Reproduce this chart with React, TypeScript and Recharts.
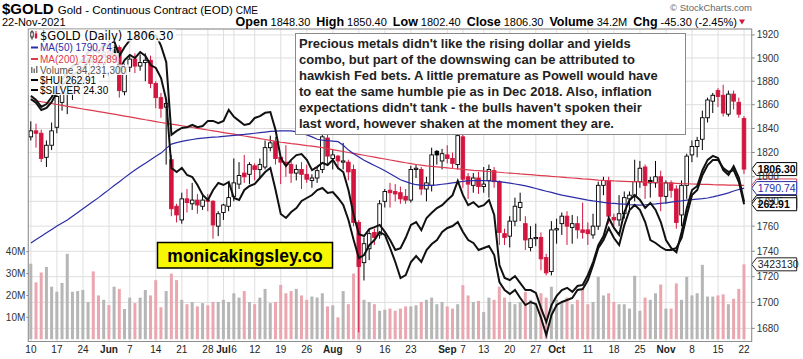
import { ComposedChart, Bar, Line, XAxis, YAxis, CartesianGrid, ReferenceLine } from 'recharts';

// trading days, 10 May – 22 Nov 2021
const dates = [
  '05-10', '05-11', '05-12', '05-13', '05-14', '05-17', '05-18', '05-19', '05-20', '05-21', '05-24', '05-25', '05-26', '05-27', '05-28',
  '06-01', '06-02', '06-03', '06-04', '06-07', '06-08', '06-09', '06-10', '06-11', '06-14', '06-15', '06-16', '06-17', '06-18', '06-21', '06-22', '06-23', '06-24', '06-25', '06-28', '06-29', '06-30',
  '07-01', '07-02', '07-06', '07-07', '07-08', '07-09', '07-12', '07-13', '07-14', '07-15', '07-16', '07-19', '07-20', '07-21', '07-22', '07-23', '07-26', '07-27', '07-28', '07-29', '07-30',
  '08-02', '08-03', '08-04', '08-05', '08-06', '08-09', '08-10', '08-11', '08-12', '08-13', '08-16', '08-17', '08-18', '08-19', '08-20', '08-23', '08-24', '08-25', '08-26', '08-27', '08-30', '08-31',
  '09-01', '09-02', '09-03', '09-07', '09-08', '09-09', '09-10', '09-13', '09-14', '09-15', '09-16', '09-17', '09-20', '09-21', '09-22', '09-23', '09-24', '09-27', '09-28', '09-29', '09-30',
  '10-01', '10-04', '10-05', '10-06', '10-07', '10-08', '10-11', '10-12', '10-13', '10-14', '10-15', '10-18', '10-19', '10-20', '10-21', '10-22', '10-25', '10-26', '10-27', '10-28', '10-29',
  '11-01', '11-02', '11-03', '11-04', '11-05', '11-08', '11-09', '11-10', '11-11', '11-12', '11-15', '11-16', '11-17', '11-18', '11-19', '11-22',
];

const opens = [
  1833, 1838, 1836, 1816, 1826, 1841, 1862, 1869, 1870, 1877,
  1880, 1882, 1898, 1896, 1895, 1906, 1903, 1909, 1871, 1892,
  1899, 1893, 1896, 1898, 1878, 1866, 1858, 1814, 1776, 1765,
  1782, 1778, 1781, 1776, 1781, 1780, 1760, 1771, 1776, 1784,
  1794, 1803, 1802, 1809, 1806, 1808, 1824, 1829, 1816, 1812,
  1810, 1803, 1806, 1802, 1797, 1799, 1806, 1832, 1815, 1817,
  1812, 1812, 1806, 1763, 1731, 1742, 1755, 1753, 1780, 1789,
  1788, 1787, 1784, 1781, 1806, 1806, 1790, 1793, 1821, 1813,
  1818, 1815, 1810, 1833, 1800, 1793, 1799, 1792, 1797, 1805,
  1796, 1754, 1752, 1764, 1775, 1762, 1743, 1750, 1751, 1735,
  1724, 1757, 1762, 1768, 1759, 1762, 1757, 1757, 1753, 1760,
  1793, 1797, 1767, 1765, 1770, 1782, 1785, 1796, 1808, 1797,
  1795, 1800, 1784, 1795, 1790, 1769, 1793, 1818, 1825, 1831,
  1849, 1863, 1872, 1868, 1852, 1869, 1862, 1848.3,
];
const highs = [
  1846, 1844, 1839, 1830, 1845, 1870, 1880, 1890, 1884, 1890,
  1887, 1900, 1913, 1902, 1912, 1916, 1911, 1911, 1895, 1903,
  1904, 1903, 1904, 1902, 1880, 1870, 1865, 1818, 1778, 1787,
  1790, 1795, 1786, 1786, 1786, 1781, 1772, 1778, 1795, 1815,
  1812, 1818, 1812, 1811, 1815, 1830, 1834, 1833, 1817, 1826,
  1813, 1810, 1812, 1810, 1802, 1808, 1837, 1835, 1822, 1818,
  1828, 1814, 1810, 1765, 1751, 1757, 1758, 1781, 1790, 1795,
  1794, 1792, 1790, 1809, 1810, 1808, 1800, 1824, 1822, 1823,
  1826, 1820, 1836, 1835, 1803, 1803, 1804, 1808, 1810, 1808,
  1797, 1758, 1768, 1783, 1787, 1768, 1760, 1762, 1755, 1738,
  1764, 1766, 1771, 1772, 1769, 1768, 1779, 1763, 1770, 1796,
  1800, 1800, 1770, 1785, 1788, 1788, 1814, 1813, 1810, 1800,
  1813, 1805, 1797, 1797, 1793, 1797, 1819, 1830, 1833, 1855,
  1866, 1870, 1874, 1877, 1872, 1872, 1866, 1850.4,
];
const lows = [
  1830, 1824, 1812, 1808, 1822, 1836, 1855, 1852, 1864, 1871,
  1873, 1879, 1891, 1888, 1883, 1896, 1895, 1866, 1868, 1888,
  1887, 1889, 1880, 1874, 1857, 1849, 1810, 1768, 1763, 1762,
  1771, 1773, 1770, 1773, 1772, 1750, 1752, 1765, 1772, 1780,
  1790, 1795, 1794, 1797, 1799, 1806, 1821, 1810, 1794, 1800,
  1795, 1797, 1790, 1795, 1791, 1795, 1803, 1810, 1806, 1806,
  1806, 1797, 1760, 1677, 1717, 1733, 1745, 1750, 1775, 1775,
  1780, 1778, 1778, 1779, 1799, 1785, 1780, 1788, 1810, 1806,
  1811, 1807, 1806, 1791, 1782, 1787, 1786, 1787, 1783, 1791,
  1745, 1745, 1743, 1760, 1764, 1741, 1740, 1744, 1725, 1721,
  1721, 1746, 1753, 1745, 1746, 1750, 1750, 1745, 1750, 1757,
  1785, 1762, 1760, 1760, 1766, 1773, 1780, 1791, 1782, 1783,
  1791, 1772, 1778, 1783, 1758, 1760, 1782, 1812, 1816, 1822,
  1845, 1853, 1858, 1850, 1850, 1856, 1849, 1802.4,
];
const closes = [
  1838, 1836, 1815, 1826, 1838, 1867, 1869, 1870, 1877, 1878,
  1881, 1898, 1896, 1895, 1905, 1904, 1909, 1872, 1892, 1899,
  1893, 1896, 1898, 1878, 1866, 1857, 1861, 1774, 1769, 1782,
  1779, 1781, 1777, 1781, 1780, 1761, 1770, 1777, 1783, 1795,
  1801, 1800, 1810, 1806, 1810, 1824, 1828, 1815, 1812, 1810,
  1803, 1806, 1802, 1798, 1799, 1805, 1833, 1817, 1818, 1813,
  1813, 1804, 1763, 1728, 1746, 1754, 1751, 1778, 1788, 1787,
  1786, 1782, 1781, 1806, 1807, 1790, 1795, 1818, 1818, 1819,
  1815, 1811, 1834, 1798, 1794, 1799, 1792, 1794, 1806, 1796,
  1755, 1751, 1764, 1776, 1779, 1749, 1750, 1751, 1734, 1723,
  1757, 1758, 1768, 1760, 1762, 1757, 1755, 1754, 1760, 1793,
  1797, 1768, 1765, 1770, 1783, 1785, 1796, 1807, 1793, 1795,
  1800, 1784, 1795, 1789, 1763, 1793, 1817, 1825, 1830, 1849,
  1864, 1868, 1867, 1853, 1869, 1863, 1852, 1806.3,
];
// millions of contracts
const volumes = [
  34.5, 26, 30.5, 33, 24, 21.7, 25.7, 39, 21.7, 22,
  22.5, 17, 31, 20, 18, 15.6, 24, 23, 13.8, 19,
  16.5, 19, 22.5, 20, 27, 14.6, 22, 30, 27, 18,
  16, 17, 15, 16.5, 15.5, 17, 17, 18, 17, 21,
  19, 22, 17, 16, 19, 23, 16.5, 17, 24.8, 21,
  22, 23, 20, 18, 19.5, 19, 21, 15, 15.5, 10,
  22, 16, 30, 33, 18, 17, 16, 13, 13.5, 14,
  13, 14, 15, 15, 15.5, 17, 18, 19, 16, 17,
  15, 14, 16, 24.7, 20, 17, 17.5, 12.4, 19, 18,
  24, 19, 17, 16, 17, 21.6, 18, 16, 21, 19,
  24, 18, 17, 19, 16, 18, 23, 16, 17, 28.5,
  20, 21, 17, 16, 16, 14, 29, 13, 19, 18,
  21, 25, 14, 14, 25.5, 18, 28.5, 20, 21, 34,
  19.5, 19.5, 20, 20.5, 16, 18.5, 23, 34.2313,
];
const ma50 = [
  1746.6, 1749.3, 1752.0, 1754.7, 1757.4, 1760.1, 1762.6, 1765.0, 1768.0, 1771.0,
  1774.0, 1777.0, 1780.0, 1783.0, 1786.3, 1789.5, 1792.8, 1796.0, 1799.3, 1802.5,
  1805.5, 1808.4, 1811.2, 1814.0, 1816.8, 1819.5, 1823.4, 1827.0, 1828.2, 1829.2,
  1830.0, 1830.8, 1831.5, 1832.0, 1832.4, 1832.7, 1833.0, 1833.4, 1833.8, 1834.2,
  1834.6, 1835.0, 1835.5, 1836.0, 1836.5, 1837.0, 1837.5, 1837.8, 1838.0, 1838.1,
  1838.0, 1837.2, 1836.0, 1834.6, 1833.0, 1831.0, 1830.2, 1829.8, 1829.5, 1829.0,
  1826.0, 1822.0, 1819.0, 1816.2, 1813.5, 1811.4, 1809.3, 1807.2, 1805.0, 1802.5,
  1800.0, 1797.5, 1796.0, 1794.6, 1793.5, 1793.2, 1793.0, 1793.0, 1793.4, 1793.9,
  1794.4, 1795.0, 1795.6, 1796.3, 1796.6, 1796.8, 1796.9, 1796.8, 1796.7, 1796.5,
  1796.0, 1795.4, 1794.8, 1794.1, 1793.3, 1792.5, 1791.5, 1790.4, 1789.3, 1788.2,
  1787.2, 1786.1, 1785.0, 1784.2, 1783.4, 1782.6, 1781.8, 1781.0, 1780.3, 1779.7,
  1779.1, 1778.6, 1778.3, 1778.0, 1777.7, 1777.4, 1777.2, 1777.0, 1777.2, 1777.5,
  1777.9, 1778.4, 1778.8, 1779.4, 1780.0, 1780.4, 1780.9, 1781.3, 1781.8, 1782.2,
  1782.7, 1783.6, 1784.6, 1785.7, 1786.9, 1788.4, 1789.6, 1790.74,
];
const ma200 = [
  1864.0, 1863.3, 1862.5, 1861.8, 1861.0, 1860.2, 1859.4, 1858.6, 1857.9, 1857.1,
  1856.4, 1855.7, 1855.0, 1854.2, 1853.5, 1852.7, 1852.0, 1851.2, 1850.4, 1849.7,
  1848.9, 1848.1, 1847.3, 1846.6, 1845.8, 1845.0, 1844.3, 1843.6, 1843.0, 1842.3,
  1841.6, 1840.8, 1840.1, 1839.4, 1838.7, 1838.0, 1837.3, 1836.6, 1835.9, 1835.2,
  1834.5, 1833.7, 1833.0, 1832.3, 1831.5, 1830.8, 1830.1, 1829.3, 1828.5, 1828.0,
  1827.4, 1826.9, 1826.3, 1825.7, 1825.2, 1824.6, 1824.0, 1823.2, 1822.4, 1821.6,
  1820.8, 1820.0, 1819.3, 1818.5, 1817.7, 1816.9, 1816.1, 1815.3, 1814.6, 1813.8,
  1813.0, 1812.3, 1811.5, 1810.8, 1810.1, 1809.5, 1809.0, 1808.6, 1808.2, 1807.7,
  1807.3, 1806.8, 1806.4, 1806.0, 1805.7, 1805.3, 1805.0, 1804.7, 1804.3, 1804.0,
  1803.7, 1803.3, 1803.0, 1802.7, 1802.3, 1802.0, 1801.7, 1801.3, 1801.0, 1800.7,
  1800.3, 1800.0, 1799.7, 1799.3, 1799.0, 1798.7, 1798.3, 1798.0, 1797.7, 1797.3,
  1797.0, 1796.8, 1796.6, 1796.5, 1796.3, 1796.1, 1796.0, 1795.8, 1795.6, 1795.4,
  1795.3, 1795.1, 1794.9, 1794.8, 1794.6, 1794.4, 1794.3, 1794.1, 1794.0, 1793.8,
  1793.7, 1793.5, 1793.4, 1793.3, 1793.2, 1793.1, 1793.0, 1792.89,
];
const hui = [
  305.0, 303.4, 300.6, 301.4, 303.8, 307.8, 310.6, 312.6, 314.6, 315.8,
  317.4, 319.8, 320.6, 319.4, 322.6, 321.4, 324.6, 316.6, 320.6, 322.6,
  321.4, 323.8, 322.2, 318.6, 317.4, 313.4, 304.6, 277.4, 275.8, 277.4,
  274.6, 273.8, 270.6, 266.6, 264.6, 268.6, 271.4, 270.6, 271.8, 265.4,
  264.6, 268.6, 270.2, 271.0, 273.4, 275.8, 277.4, 268.6, 259.0, 257.4,
  259.8, 261.4, 264.2, 265.4, 266.6, 268.6, 269.4, 267.4, 267.8, 265.4,
  262.6, 256.6, 248.6, 241.4, 242.6, 246.6, 248.6, 251.8, 250.6, 245.4,
  239.8, 233.4, 234.6, 239.8, 242.2, 239.8, 244.6, 247.0, 248.6, 251.8,
  253.4, 254.2, 255.8, 251.8, 248.6, 247.4, 244.6, 245.4, 246.2, 242.6,
  231.8, 228.6, 227.0, 228.6, 225.4, 222.6, 223.8, 223.0, 217.4, 210.6,
  218.6, 222.6, 223.8, 224.6, 225.4, 228.6, 229.0, 232.6, 238.6, 245.4,
  248.6, 253.4, 249.4, 246.6, 254.6, 260.6, 262.6, 260.6, 255.8, 248.6,
  247.4, 245.8, 244.6, 244.6, 245.4, 249.4, 258.6, 266.6, 268.6, 274.6,
  278.6, 280.6, 280.6, 277.4, 275.8, 276.6, 271.8, 262.91,
];
const silver = [
  27.18, 27.07, 26.88, 26.96, 27.15, 27.40, 27.61, 27.83, 27.99, 28.05,
  28.16, 28.37, 28.43, 28.37, 28.59, 28.54, 28.67, 28.27, 28.51, 28.70,
  28.76, 28.81, 28.89, 28.78, 28.84, 28.54, 28.10, 26.12, 26.23, 26.31,
  26.33, 26.39, 26.33, 26.36, 26.50, 26.50, 26.44, 26.50, 26.80, 26.61,
  26.50, 26.39, 26.42, 26.58, 26.63, 26.72, 26.74, 26.25, 25.49, 25.27,
  25.44, 25.57, 25.60, 25.44, 25.16, 25.25, 25.36, 25.30, 25.44, 25.22,
  25.11, 24.62, 23.94, 23.42, 23.37, 23.56, 23.61, 23.67, 23.48, 23.26,
  22.99, 23.04, 23.32, 23.67, 23.75, 23.53, 23.86, 24.00, 24.13, 24.21,
  24.35, 24.48, 24.87, 24.48, 24.21, 24.29, 24.16, 24.21, 24.35, 23.94,
  22.58, 22.23, 22.17, 22.28, 22.09, 21.90, 21.90, 21.82, 21.41, 21.03,
  21.49, 21.74, 21.90, 21.96, 21.85, 22.01, 22.04, 22.31, 22.66, 23.12,
  23.37, 23.86, 23.59, 23.40, 24.02, 24.35, 24.48, 24.35, 24.13, 24.27,
  24.08, 23.75, 23.26, 23.04, 22.93, 23.48, 24.13, 24.62, 24.73, 25.16,
  25.44, 25.55, 25.49, 25.16, 25.03, 25.27, 24.95, 24.30,
];

const tickDates = ['05-10', '05-17', '05-24', '06-01', '06-07', '06-14', '06-21', '06-28', '07-01', '07-06', '07-12', '07-19', '07-26', '08-02', '08-09', '08-16', '08-23', '09-01', '09-07', '09-13', '09-20', '09-27', '10-01', '10-11', '10-18', '10-25', '11-01', '11-08', '11-15', '11-22'];
const tickLabels = ['10', '17', '24', 'Jun', '7', '14', '21', '28', 'Jul', '6', '12', '19', '26', 'Aug', '9', '16', '23', 'Sep', '7', '13', '20', '27', 'Oct', '11', '18', '25', 'Nov', '8', '15', '22'];
const priceTicks = [1680, 1700, 1720, 1740, 1760, 1780, 1800, 1820, 1840, 1860, 1880, 1900, 1920];
const volTicks = [10, 20, 30, 40];

const noteLines = [
  "Precious metals didn't like the rising dollar and yields",
  'combo, but part of the downswing can be attributed to',
  'hawkish Fed bets. A little premature as Powell would have',
  'to eat the same humble pie as in Dec 2018. Also, inflation',
  "expectations didn't tank - the bulls haven't spoken their",
  'last word, however shaken at the moment they are.',
];

const RED = '#d3163f';
const BLUE = '#2c2ca8';
const MA_RED = '#dc3a4e';
const SANS = '"Liberation Sans", Arial, sans-serif';

const data = dates.map((date, i) => ({
  date,
  open: opens[i],
  high: highs[i],
  low: lows[i],
  close: closes[i],
  range: [lows[i], highs[i]],
  down: i > 0 && closes[i] < closes[i - 1],
  volume: volumes[i],
  ma50: ma50[i],
  ma200: ma200[i],
  hui: hui[i],
  silver: silver[i],
}));

function Candle(props: any) {
  const { x, width, y, height, payload } = props;
  if (!payload || height == null) return null;
  const top = Math.min(y, y + height);
  const h = Math.abs(height);
  const lh = Math.log(payload.high);
  const ll = Math.log(payload.low);
  const yOf = (p: number) => top + ((lh - Math.log(p)) / (lh - ll)) * h;
  const cx = x + width / 2;
  const color = payload.down ? RED : '#000';
  const hollow = payload.close > payload.open;
  const yo = yOf(payload.open);
  const yc = yOf(payload.close);
  return (
    <g>
      <line x1={cx} x2={cx} y1={top} y2={top + h} stroke={color} strokeWidth={1} />
      <rect
        x={cx - 1.8}
        y={Math.min(yo, yc)}
        width={3.6}
        height={Math.max(Math.abs(yc - yo), 1)}
        fill={hollow ? '#fff' : color}
        stroke={color}
        strokeWidth={0.9}
      />
    </g>
  );
}

function VolBar(props: any) {
  const { x, y, width, height, payload } = props;
  if (!payload) return null;
  return <rect x={x} y={y} width={width} height={height} fill={payload.down ? '#eaa7b0' : '#b6b6b6'} />;
}

function DateTick({ x, payload }: any) {
  const label = tickLabels[tickDates.indexOf(payload.value)];
  const isMonth = isNaN(Number(label));
  return (
    <text x={x} y={353} textAnchor="middle" fontSize={10} fontFamily={SANS}
      fontWeight={isMonth ? 'bold' : 'normal'} fill="#222">
      {label}
    </text>
  );
}

function VolTick({ x, y, payload }: any) {
  return (
    <text x={x} y={y + 3.5} textAnchor="end" fontSize={10} fontFamily={SANS} fill="#333">
      {`${payload.value}M`}
    </text>
  );
}

function Pointer({ viewBox, text, color, bold }: any) {
  if (!viewBox) return null;
  const x0 = viewBox.x + viewBox.width;
  const y = viewBox.y;
  return (
    <g>
      <path d={`M${x0},${y} L${x0 + 5},${y - 6.5} L${x0 + 45},${y - 6.5} L${x0 + 45},${y + 6.5} L${x0 + 5},${y + 6.5} Z`}
        fill="#fff" stroke={color} strokeWidth={1} />
      <text x={x0 + 6} y={y + 3.7} fontSize={10.5} fontFamily={SANS} fontWeight={bold ? 'bold' : 'normal'} fill={color}>
        {text}
      </text>
    </g>
  );
}

export default function App() {
  return (
    <div style={{ position: 'absolute', left: 0, top: 0, width: 803, height: 359, background: '#fff' }}>
      <ComposedChart
        width={803}
        height={359}
        data={data}
        margin={{ top: 29, right: 0, bottom: 0, left: 0 }}
        barCategoryGap={1}
        style={{ fontFamily: SANS }}
      >
        <CartesianGrid xAxisId="main" yAxisId="price" stroke="#dedede" strokeWidth={1} />
        <XAxis xAxisId="main" dataKey="date" ticks={tickDates} interval={0} height={17.5}
          tick={<DateTick />} tickLine={false} axisLine={false}
          padding={{ left: 0, right: 5 }} />
        <XAxis xAxisId="c" dataKey="date" hide padding={{ left: 0, right: 5 }} />
        <YAxis yAxisId="vol" orientation="left" width={28.3} domain={[-1.05, 141.8]} allowDataOverflow
          ticks={volTicks} interval={0} tickSize={2} tickMargin={1}
          axisLine={false} tickLine={{ stroke: '#888' }} tick={<VolTick />} />
        <YAxis yAxisId="price" orientation="right" width={51.3} scale="log" domain={[1670, 1925.2]} allowDataOverflow
          ticks={priceTicks} interval={0} tickSize={3} tickMargin={2} axisLine={false} tickLine={{ stroke: '#888' }}
          tick={{ fontSize: 10, fill: '#333' }} />
        <YAxis yAxisId="hui" orientation="right" width={0} hide domain={[208, 333]} allowDataOverflow />
        <YAxis yAxisId="silver" orientation="right" width={0} hide domain={[20.5, 29]} allowDataOverflow />

        <Bar xAxisId="main" yAxisId="vol" dataKey="volume" shape={VolBar} isAnimationActive={false} />
        <Line xAxisId="main" yAxisId="price" dataKey="ma200" stroke={MA_RED} strokeWidth={1.2} dot={false} isAnimationActive={false} />
        <Line xAxisId="main" yAxisId="price" dataKey="ma50" stroke={BLUE} strokeWidth={1.2} dot={false} isAnimationActive={false} />
        <Line xAxisId="main" yAxisId="hui" dataKey="hui" stroke="#111" strokeWidth={2} dot={false} isAnimationActive={false} />
        <Line xAxisId="main" yAxisId="silver" dataKey="silver" stroke="#111" strokeWidth={2} dot={false} isAnimationActive={false} />
        <Bar xAxisId="c" yAxisId="price" dataKey="range" shape={Candle} isAnimationActive={false} />

        <ReferenceLine xAxisId="main" yAxisId="vol" y={34.2313} stroke="none" label={<Pointer text="3423130" color="#222" />} />
        <ReferenceLine xAxisId="main" yAxisId="silver" y={24.3} stroke="none" label={<Pointer text="24.30" color="#000" bold />} />
        <ReferenceLine xAxisId="main" yAxisId="hui" y={262.91} stroke="none" label={<Pointer text="262.91" color="#000" bold />} />
        <ReferenceLine xAxisId="main" yAxisId="price" y={1792.89} stroke="none" label={<Pointer text="1792.89" color={MA_RED} />} />
        <ReferenceLine xAxisId="main" yAxisId="price" y={1790.74} stroke="none" label={<Pointer text="1790.74" color={BLUE} />} />
        <ReferenceLine xAxisId="main" yAxisId="price" y={1806.3} stroke="none" label={<Pointer text="1806.30" color="#000" bold />} />
      </ComposedChart>

      <svg width={803} height={359} style={{ position: 'absolute', left: 0, top: 0, pointerEvents: 'none' }}>
        <rect x={28.3} y={29} width={723.4} height={312.5} fill="none" stroke="#8c8c8c" />

        {/* header */}
        <text x={2} y={14} fontFamily={SANS} fill="#000">
          <tspan fontSize={15} fontWeight="bold">$GOLD</tspan>
          <tspan fontSize={11.5} dx={4}>Gold - Continuous Contract (EOD)</tspan>
          <tspan fontSize={10} dx={3}>CME</tspan>
        </text>
        <text x={2} y={26} fontFamily={SANS} fontSize={11} fill="#000">22-Nov-2021</text>
        <text x={737} y={26} textAnchor="end" fontFamily={SANS} fill="#000">
          <tspan fontSize={12.5} fontWeight="bold">Open</tspan>
          <tspan fontSize={11} dx={3}>1848.30</tspan>
          <tspan fontSize={12.5} fontWeight="bold" dx={6}>High</tspan>
          <tspan fontSize={11} dx={3}>1850.40</tspan>
          <tspan fontSize={12.5} fontWeight="bold" dx={6}>Low</tspan>
          <tspan fontSize={11} dx={3}>1802.40</tspan>
          <tspan fontSize={12.5} fontWeight="bold" dx={6}>Close</tspan>
          <tspan fontSize={11} dx={3}>1806.30</tspan>
          <tspan fontSize={12.5} fontWeight="bold" dx={6}>Volume</tspan>
          <tspan fontSize={11} dx={3}>34.2M</tspan>
          <tspan fontSize={12.5} fontWeight="bold" dx={6}>Chg</tspan>
          <tspan fontSize={11} dx={3}>-45.30 (-2.45%)</tspan>
        </text>
        <path d="M739,19.5 L745,19.5 L742,24.5 Z" fill={RED} />
        <text x={752} y={11} textAnchor="end" fontFamily={SANS} fontSize={9.5} fill="#666">© StockCharts.com</text>

        {/* legend */}
        <g fill="#fff" opacity={0.88}>
          <rect x={28.8} y={29.5} width={147} height={12} />
          <rect x={28.8} y={41.5} width={85} height={11.5} />
          <rect x={28.8} y={53} width={90} height={11.5} />
          <rect x={28.8} y={64.5} width={100} height={10.5} />
          <rect x={28.8} y={75} width={70} height={10} />
          <rect x={28.8} y={85} width={82} height={10} />
        </g>
        <line x1={32} x2={32} y1={30.5} y2={39.5} stroke="#000" />
        <rect x={30.8} y={32} width={2.4} height={5} fill="#fff" stroke="#000" strokeWidth={0.8} />
        <line x1={36} x2={36} y1={31} y2={39} stroke={RED} />
        <rect x={34.8} y={33.5} width={2.4} height={4.5} fill={RED} />
        <text x={40} y={39.5} fontFamily='"DejaVu Sans", Verdana, sans-serif' fontSize={11.5} fill="#000">$GOLD (Daily) 1806.30</text>
        <line x1={31} x2={38} y1={47.5} y2={47.5} stroke={BLUE} strokeWidth={2} />
        <text x={40} y={51} fontFamily={SANS} fontSize={10} fill={BLUE}>MA(50) 1790.74</text>
        <line x1={31} x2={38} y1={59} y2={59} stroke={MA_RED} strokeWidth={2} />
        <text x={40} y={62.5} fontFamily={SANS} fontSize={10} fill={MA_RED}>MA(200) 1792.89</text>
        <g fill="#777">
          <rect x={31} y={67} width={1.5} height={6} />
          <rect x={33.5} y={68.5} width={1.5} height={4.5} />
          <rect x={36} y={66} width={1.5} height={7} />
        </g>
        <text x={40} y={73.5} fontFamily={SANS} fontSize={10} fill="#555">Volume 34,231,300</text>
        <line x1={31} x2={38} y1={80} y2={80} stroke="#000" strokeWidth={2} />
        <text x={40} y={83.5} fontFamily={SANS} fontSize={10} fill="#000">$HUI 262.91</text>
        <line x1={31} x2={38} y1={90} y2={90} stroke="#000" strokeWidth={2} />
        <text x={40} y={93.5} fontFamily={SANS} fontSize={10} fill="#000">$SILVER 24.30</text>

        {/* annotation */}
        <rect x={295.5} y={33.5} width={390} height={101} fill="#fff" stroke="#8a8a8a" />
        {noteLines.map((line, i) => (
          <text key={i} x={299} y={48 + i * 16} fontFamily={SANS} fontSize={13} fontWeight="bold" fill="#222">
            {line}
          </text>
        ))}

        {/* watermark */}
        <rect x={157.5} y={242.5} width={175} height={25.5} fill="#f7f700" stroke="#000" strokeWidth={1.5} />
        <text x={245} y={261.5} textAnchor="middle" fontFamily={SANS} fontSize={17.5} fontWeight="bold" fill="#000">
          monicakingsley.co
        </text>
      </svg>
    </div>
  );
}
